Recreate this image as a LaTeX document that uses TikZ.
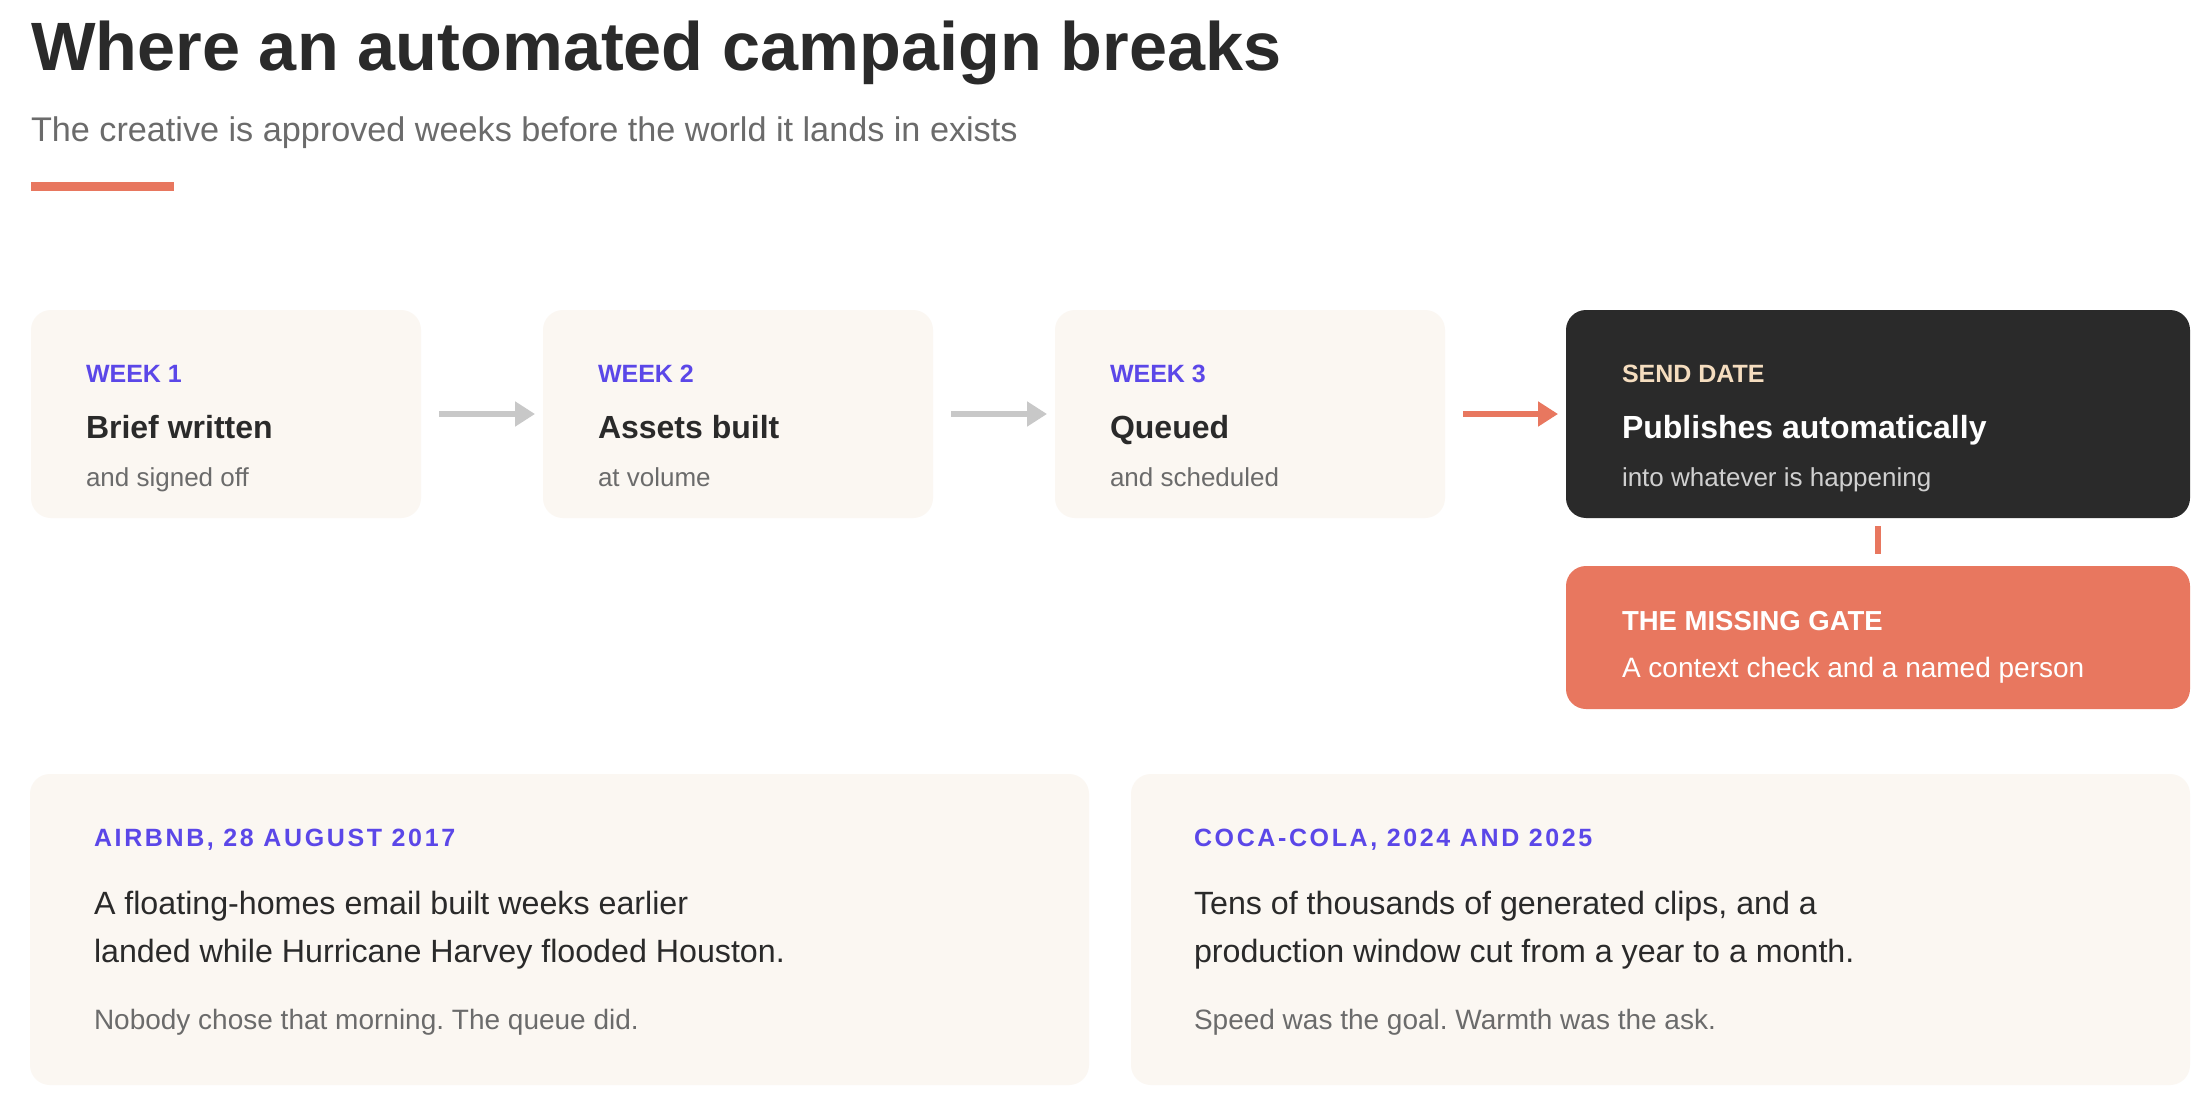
\documentclass[tikz,border=0pt]{standalone}
\usepackage{fontspec}
\setmainfont{Liberation Sans}
\usetikzlibrary{arrows.meta}
\frenchspacing
\definecolor{ink}{HTML}{2A2A2A}
\definecolor{mute}{HTML}{6B6B6B}
\definecolor{cream}{HTML}{FBF7F2}
\definecolor{violet}{HTML}{5B47E8}
\definecolor{coral}{HTML}{E8775F}
\definecolor{peach}{HTML}{F5DDBF}
\definecolor{arrowgray}{HTML}{C8C8C8}
\definecolor{lightmute}{HTML}{D0D0D0}
\begin{document}
\begin{tikzpicture}[x=1pt,y=-1pt,
  panel/.style={rounded corners=20pt, inner sep=0pt, outer sep=0pt, draw=none},
  stage/.style={panel, fill=cream, minimum width=390pt, minimum height=208pt},
  txt/.style={anchor=base west, inner sep=0pt, outer sep=0pt},
  lab/.style={txt, font=\fontsize{25}{30}\selectfont\bfseries, text=violet},
  head/.style={txt, font=\fontsize{32}{38}\selectfont\bfseries, text=ink},
  sub/.style={txt, font=\fontsize{26}{31}\selectfont, text=mute},
  caselab/.style={txt, font=\fontsize{25}{30}\selectfont\bfseries\addfontfeature{LetterSpace=10.5}, text=violet},
  body/.style={txt, font=\fontsize{32.2}{48}\selectfont, text=ink, align=left},
  foot/.style={txt, font=\fontsize{28}{34}\selectfont, text=mute},
  flow/.style={line width=6pt, -{Triangle[length=20pt,width=24pt]}, shorten <=18pt, shorten >=8pt}
]
\useasboundingbox (0,0) rectangle (2208,1110);
\fill[white] (0,0) rectangle (2208,1110);

% header
\node[txt, font=\fontsize{68.4}{80}\selectfont\bfseries, text=ink] (title) at (31,71) {Where an automated campaign breaks};
\node[txt, font=\fontsize{34.2}{40}\selectfont, text=mute] (subtitle) at (31,141.5) {The creative is approved weeks before the world it lands in exists};
\fill[coral] (31,182) rectangle (174,191);

% stage boxes
\node[stage] (b1) at (226,414) {};
\node[stage] (b2) at (738,414) {};
\node[stage] (b3) at (1250,414) {};
\node[panel, fill=ink, minimum width=624pt, minimum height=208pt] (b4) at (1878,414) {};
\node[panel, fill=coral, minimum width=624pt, minimum height=143pt] (gate) at (1878,637.5) {};

\node[lab] (l1) at (86,382) {WEEK 1};
\node[head] (h1) at (86,438) {Brief written};
\node[sub] (s1) at (86,486) {and signed off};

\node[lab] (l2) at (598,382) {WEEK 2};
\node[head] (h2) at (598,438) {Assets built};
\node[sub] (s2) at (598,486) {at volume};

\node[lab] (l3) at (1110,382) {WEEK 3};
\node[head] (h3) at (1110,438) {Queued};
\node[sub] (s3) at (1110,486) {and scheduled};

\node[lab, text=peach] (l4) at (1622,382) {SEND DATE};
\node[head, text=white] (h4) at (1622,438) {Publishes automatically};
\node[sub, text=lightmute] (s4) at (1622,486) {into whatever is happening};

\node[txt, font=\fontsize{27.5}{33}\selectfont\bfseries, text=white] (gl) at (1622,630) {THE MISSING GATE};
\node[txt, font=\fontsize{28}{34}\selectfont, text=white] (gt) at (1622,677) {A context check and a named person};

% connectors
\draw[flow, arrowgray] (b1.east) -- (b2.west);
\draw[flow, arrowgray] (b2.east) -- (b3.west);
\draw[flow, coral] (b3.east) -- (b4.west);
\draw[coral, line width=6pt, shorten <=8pt, shorten >=12pt] (b4.south) -- (gate.north);

% case cards
\node[panel, fill=cream, minimum width=1059pt, minimum height=311pt] (c1) at (559.5,929.5) {};
\node[panel, fill=cream, minimum width=1059pt, minimum height=311pt] (c2) at (1660.5,929.5) {};

\node[caselab] (cl1) at (94,846) {AIRBNB, 28 AUGUST 2017};
\node[body] (cb1a) at (94,914) {A floating-homes email built weeks earlier};
\node[body] (cb1b) at (94,962) {landed while Hurricane Harvey flooded Houston.};
\node[foot] (cf1) at (94,1029) {Nobody chose that morning. The queue did.};

\node[caselab] (cl2) at (1194,846) {COCA-COLA, 2024 AND 2025};
\node[body] (cb2a) at (1194,914) {Tens of thousands of generated clips, and a};
\node[body] (cb2b) at (1194,962) {production window cut from a year to a month.};
\node[foot] (cf2) at (1194,1029) {Speed was the goal. Warmth was the ask.};
\end{tikzpicture}
\end{document}
